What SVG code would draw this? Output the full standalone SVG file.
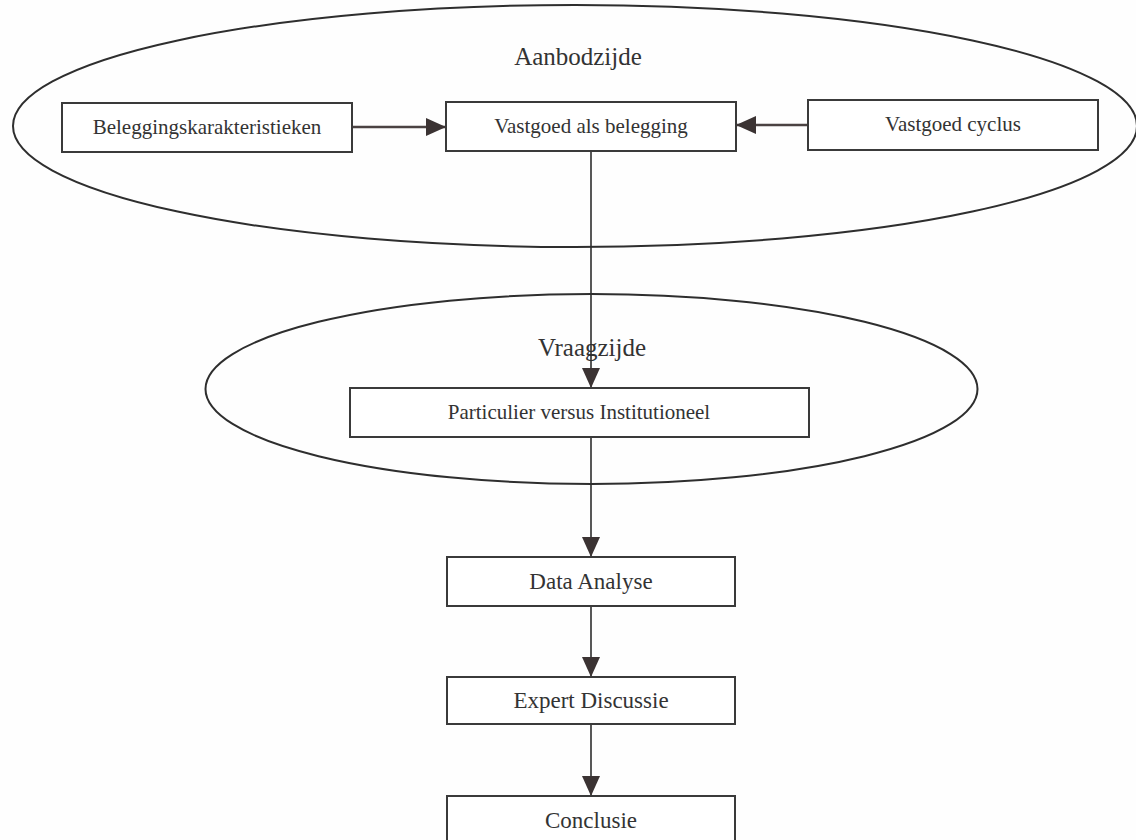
<svg xmlns="http://www.w3.org/2000/svg" width="1136" height="840" viewBox="0 0 1136 840">
  <style>
    .bg { fill: #fefefe; }
    .group { fill: none; stroke: #2e2e2e; stroke-width: 2; }
    .box { fill: #ffffff; stroke: #3a3a3a; stroke-width: 2; }
    .lbl { font-family: "Liberation Serif", "Times New Roman", serif; fill: #333333; text-anchor: middle; }
    .head { font-size: 25px; }
    .small { font-size: 21px; }
    .big { font-size: 23px; }
    .conn { fill: none; stroke: #2e2e2e; stroke-width: 1.6; }
    .hconn { fill: none; stroke: #4a4242; stroke-width: 2.6; }
  </style>
  <defs>
    <marker id="arrow" markerUnits="userSpaceOnUse" markerWidth="20" markerHeight="18" refX="20" refY="9" orient="auto">
      <path d="M0,0 L20,9 L0,18 Z" fill="#3b3333"/>
    </marker>
  </defs>

  <rect class="bg" x="0" y="0" width="1136" height="840"/>

  <g id="aanbodzijde">
    <ellipse class="group" cx="575" cy="126" rx="562" ry="121"/>
    <text class="lbl head" x="578" y="65">Aanbodzijde</text>
  </g>

  <g id="vraagzijde">
    <ellipse class="group" cx="591.5" cy="389" rx="386" ry="95"/>
    <text class="lbl head" x="592" y="356">Vraagzijde</text>
  </g>

  <g id="connectors">
    <line class="hconn" x1="352" y1="127" x2="446" y2="127" marker-end="url(#arrow)"/>
    <line class="hconn" x1="808" y1="125" x2="736" y2="125" marker-end="url(#arrow)"/>
    <line class="conn" x1="591" y1="151" x2="591" y2="388" marker-end="url(#arrow)"/>
    <line class="conn" x1="591" y1="437" x2="591" y2="557" marker-end="url(#arrow)"/>
    <line class="conn" x1="591" y1="606" x2="591" y2="677" marker-end="url(#arrow)"/>
    <line class="conn" x1="591" y1="724" x2="591" y2="796" marker-end="url(#arrow)"/>
  </g>

  <g id="beleggingskarakteristieken">
    <rect class="box" x="62" y="103" width="290" height="49"/>
    <text class="lbl small" x="207" y="134">Beleggingskarakteristieken</text>
  </g>

  <g id="vastgoed-als-belegging">
    <rect class="box" x="446" y="102" width="290" height="49"/>
    <text class="lbl small" x="591" y="133">Vastgoed als belegging</text>
  </g>

  <g id="vastgoed-cyclus">
    <rect class="box" x="808" y="100" width="290" height="50"/>
    <text class="lbl small" x="953" y="131">Vastgoed cyclus</text>
  </g>

  <g id="particulier-versus-institutioneel">
    <rect class="box" x="350" y="388" width="459" height="49"/>
    <text class="lbl small" x="579" y="419">Particulier versus Institutioneel</text>
  </g>

  <g id="data-analyse">
    <rect class="box" x="447" y="557" width="288" height="49"/>
    <text class="lbl big" x="591" y="589">Data Analyse</text>
  </g>

  <g id="expert-discussie">
    <rect class="box" x="447" y="677" width="288" height="47"/>
    <text class="lbl big" x="591" y="708">Expert Discussie</text>
  </g>

  <g id="conclusie">
    <rect class="box" x="447" y="796" width="288" height="60"/>
    <text class="lbl big" x="591" y="828">Conclusie</text>
  </g>
</svg>
